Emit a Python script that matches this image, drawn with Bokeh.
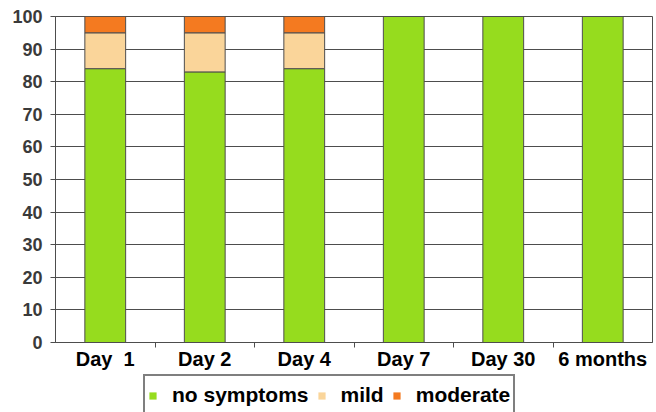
from bokeh.plotting import figure
from bokeh.layouts import column
from bokeh.models import ColumnDataSource, FixedTicker, Legend, LegendItem
from bokeh.embed import file_html
from bokeh.resources import INLINE

# Share of patients by symptom severity at each follow-up time point (%)
categories = ["Day \u00a01", "Day 2", "Day 4", "Day 7", "Day 30", "6 months"]
no_symptoms = [84, 83, 84, 100, 100, 100]
mild = [11, 12, 11, 0, 0, 0]
moderate = [5, 5, 5, 0, 0, 0]
y_ticks = [0, 10, 20, 30, 40, 50, 60, 70, 80, 90, 100]

series = ["no_symptoms", "mild", "moderate"]
series_labels = ["no symptoms", "mild", "moderate"]
colors = ["#96DC1E", "#FAD59A", "#F47A20"]

FONT = "Liberation Sans"
GRID = "#4d4d4d"

x_pos = [i + 0.5 for i in range(len(categories))]
source = ColumnDataSource(dict(x=x_pos, no_symptoms=no_symptoms, mild=mild, moderate=moderate))

p = figure(width=656, height=372, x_range=(0, len(categories)), y_range=(0, 100),
           output_backend="svg", toolbar_location=None,
           min_border_left=55, min_border_right=4, min_border_top=16, min_border_bottom=29,
           background_fill_color="white", border_fill_color="white")

p.vbar_stack(series, x="x", width=0.41, source=source, color=colors, line_color=GRID, line_width=1)

p.outline_line_color = GRID
p.outline_line_width = 1

p.xgrid.grid_line_color = None
p.ygrid.grid_line_color = GRID
p.ygrid.grid_line_width = 1
p.ygrid.ticker = FixedTicker(ticks=y_ticks)

# y axis
p.yaxis.ticker = FixedTicker(ticks=y_ticks)
p.yaxis.axis_line_color = GRID
p.yaxis.major_tick_line_color = GRID
p.yaxis.major_tick_out = 5
p.yaxis.major_tick_in = 0
p.yaxis.minor_tick_line_color = None
p.yaxis.major_label_standoff = 8
p.yaxis.major_label_text_font = FONT
p.yaxis.major_label_text_font_style = "bold"
p.yaxis.major_label_text_font_size = "18px"
p.yaxis.major_label_text_color = "#3a3a3a"

# x axis: labels at bar centres, small ticks at category boundaries
p.xaxis.ticker = FixedTicker(ticks=x_pos, minor_ticks=list(range(1, len(categories))))
p.xaxis.major_label_overrides = {x: c for x, c in zip(x_pos, categories)}
p.xaxis.axis_line_color = GRID
p.xaxis.major_tick_line_color = None
p.xaxis.major_tick_out = 0
p.xaxis.major_tick_in = 0
p.xaxis.minor_tick_line_color = GRID
p.xaxis.minor_tick_out = 5
p.xaxis.minor_tick_in = 0
p.xaxis.major_label_standoff = 0
p.xaxis.major_label_text_font = FONT
p.xaxis.major_label_text_font_style = "bold"
p.xaxis.major_label_text_font_size = "20px"
p.xaxis.major_label_text_color = "black"

# legend strip underneath the chart (its frame lines up with the chart frame)
leg = figure(width=656, height=40, x_range=(0, 1), y_range=(0, 1),
             x_axis_location=None, y_axis_location=None,
             output_backend="svg", toolbar_location=None,
             min_border=0, background_fill_color="white", border_fill_color="white")
leg.grid.visible = False
leg.outline_line_color = None
swatches = leg.vbar_stack(series, x="x", width=0.41, source=source, color=colors,
                          line_color=None, visible=False)

legend = Legend(
    items=[LegendItem(label=lbl, renderers=[r]) for lbl, r in zip(series_labels, swatches)],
    orientation="horizontal", location=(88, -4),
    border_line_color="black", border_line_width=2,
    background_fill_color="white", background_fill_alpha=1,
    padding=3, margin=0, spacing=8,
    glyph_width=9, glyph_height=9, label_standoff=15, label_height=32,
    label_text_font=FONT, label_text_font_style="bold", label_text_font_size="21px",
    label_text_color="black",
)
leg.add_layout(legend, "center")

open("out.html", "w").write(file_html(column(p, leg, spacing=0), INLINE))
